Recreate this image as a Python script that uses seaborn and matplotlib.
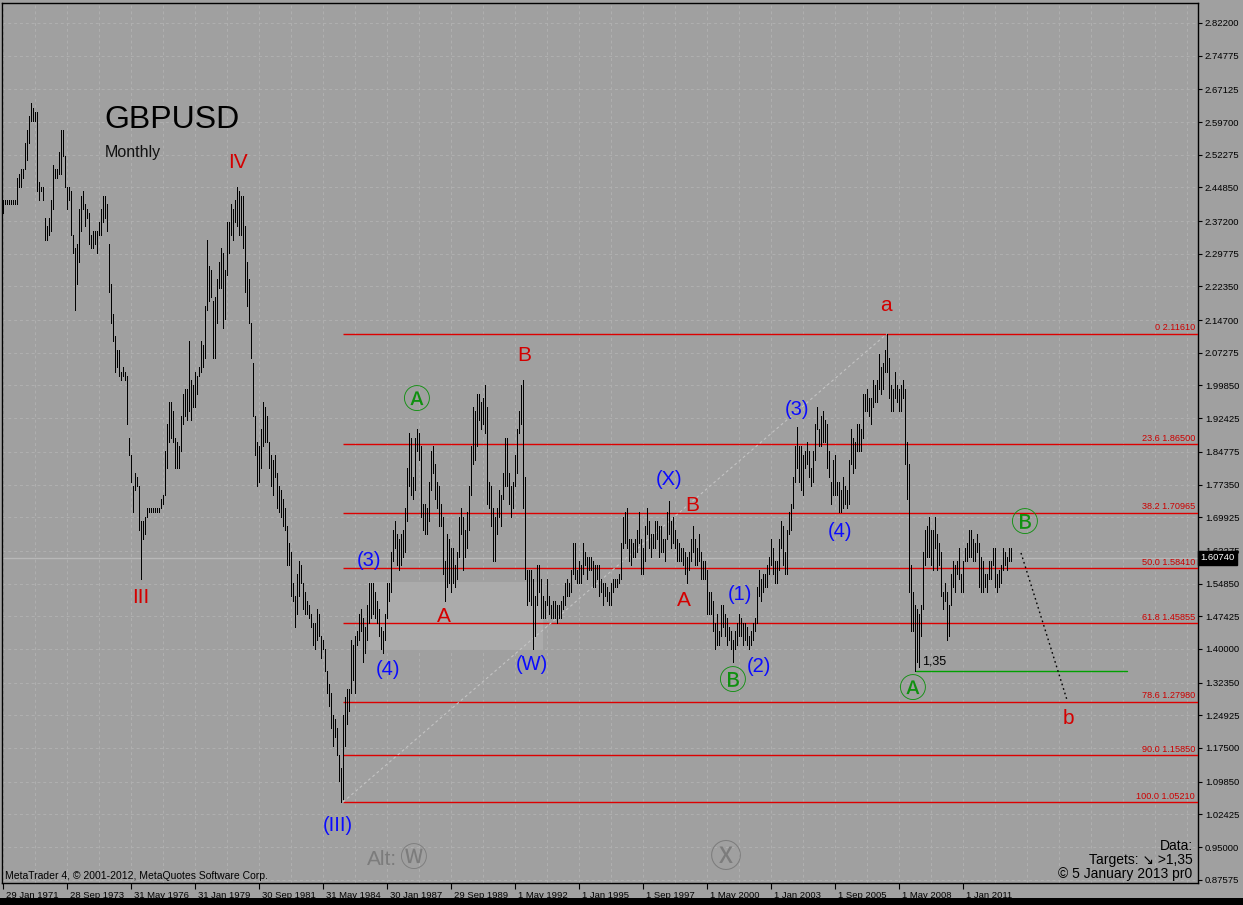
import numpy as np
import pandas as pd
import matplotlib
matplotlib.use("Agg")
import matplotlib.pyplot as plt
import matplotlib.transforms as mtransforms
from matplotlib.patches import Rectangle
import seaborn as sns

# ---------------- data (GBPUSD monthly, Jan 1971 .. Jan 2013) ----------------
month_high = [
    2.42, 2.42, 2.42, 2.42, 2.42, 2.42, 2.42, 2.47, 2.48, 2.49, 2.49, 2.55,  # 1971
    2.58, 2.61, 2.64, 2.63, 2.62, 2.62, 2.46, 2.45, 2.45, 2.38, 2.36, 2.38,  # 1972
    2.42, 2.50, 2.49, 2.49, 2.53, 2.58, 2.58, 2.52, 2.45, 2.45, 2.44, 2.34,  # 1973
    2.31, 2.32, 2.40, 2.43, 2.44, 2.41, 2.40, 2.39, 2.34, 2.35, 2.35, 2.35,  # 1974
    2.37, 2.40, 2.43, 2.43, 2.41, 2.32, 2.23, 2.16, 2.11, 2.08, 2.08, 2.03,  # 1975
    2.04, 2.03, 2.02, 1.88, 1.84, 1.77, 1.80, 1.79, 1.77, 1.69, 1.69, 1.70,  # 1976
    1.72, 1.72, 1.72, 1.72, 1.72, 1.72, 1.72, 1.74, 1.75, 1.85, 1.91, 1.96,  # 1977
    1.96, 1.94, 1.88, 1.87, 1.86, 1.93, 1.98, 1.99, 1.99, 2.10, 2.01, 2.00,  # 1978
    2.03, 2.02, 2.04, 2.10, 2.09, 2.18, 2.33, 2.27, 2.26, 2.19, 2.20, 2.24,  # 1979
    2.28, 2.31, 2.30, 2.26, 2.37, 2.37, 2.41, 2.40, 2.42, 2.45, 2.44, 2.43,  # 1980
    2.43, 2.36, 2.28, 2.24, 2.14, 2.05, 1.93, 1.87, 1.86, 1.90, 1.96, 1.95,  # 1981
    1.93, 1.87, 1.84, 1.83, 1.84, 1.80, 1.77, 1.76, 1.74, 1.72, 1.68, 1.64,  # 1982
    1.62, 1.55, 1.52, 1.57, 1.60, 1.59, 1.55, 1.53, 1.51, 1.50, 1.48, 1.46,  # 1983
    1.46, 1.49, 1.48, 1.43, 1.42, 1.40, 1.35, 1.32, 1.30, 1.25, 1.24, 1.22,  # 1984
    1.16, 1.13, 1.25, 1.29, 1.31, 1.31, 1.42, 1.41, 1.43, 1.44, 1.48, 1.49,  # 1985
    1.47, 1.45, 1.50, 1.55, 1.55, 1.55, 1.53, 1.51, 1.49, 1.45, 1.44, 1.48,  # 1986
    1.55, 1.55, 1.62, 1.67, 1.69, 1.66, 1.65, 1.66, 1.67, 1.72, 1.81, 1.89,  # 1987
    1.88, 1.79, 1.88, 1.90, 1.89, 1.86, 1.73, 1.73, 1.72, 1.78, 1.85, 1.86,  # 1988
    1.82, 1.78, 1.77, 1.73, 1.70, 1.60, 1.66, 1.65, 1.63, 1.63, 1.59, 1.62,  # 1989
    1.70, 1.72, 1.70, 1.67, 1.71, 1.77, 1.86, 1.95, 1.94, 1.98, 1.98, 1.96,  # 1990
    1.97, 2.00, 1.95, 1.78, 1.77, 1.72, 1.70, 1.72, 1.76, 1.75, 1.80, 1.88,  # 1991
    1.88, 1.80, 1.77, 1.78, 1.84, 1.90, 1.94, 2.00, 2.01, 1.79, 1.58, 1.58,  # 1992
    1.58, 1.56, 1.52, 1.59, 1.59, 1.56, 1.52, 1.51, 1.56, 1.52, 1.50, 1.51,  # 1993
    1.51, 1.50, 1.50, 1.51, 1.52, 1.55, 1.56, 1.55, 1.58, 1.64, 1.64, 1.58,  # 1994
    1.60, 1.59, 1.64, 1.62, 1.61, 1.61, 1.61, 1.60, 1.59, 1.59, 1.59, 1.56,  # 1995
    1.55, 1.55, 1.54, 1.53, 1.55, 1.56, 1.56, 1.56, 1.57, 1.64, 1.70, 1.71,  # 1996
    1.72, 1.65, 1.65, 1.64, 1.65, 1.67, 1.71, 1.65, 1.63, 1.68, 1.72, 1.69,  # 1997
    1.66, 1.66, 1.69, 1.69, 1.68, 1.68, 1.65, 1.65, 1.71, 1.735, 1.69, 1.70,  # 1998
    1.67, 1.65, 1.64, 1.63, 1.63, 1.62, 1.61, 1.62, 1.65, 1.68, 1.65, 1.63,  # 1999
    1.66, 1.62, 1.60, 1.60, 1.58, 1.53, 1.53, 1.51, 1.46, 1.48, 1.44, 1.50,  # 2000
    1.50, 1.48, 1.47, 1.45, 1.44, 1.42, 1.44, 1.46, 1.48, 1.47, 1.46, 1.46,  # 2001
    1.45, 1.43, 1.44, 1.46, 1.47, 1.54, 1.58, 1.56, 1.57, 1.57, 1.59, 1.61,  # 2002
    1.65, 1.63, 1.60, 1.60, 1.65, 1.69, 1.68, 1.62, 1.67, 1.71, 1.73, 1.79,  # 2003
    1.86, 1.905, 1.86, 1.86, 1.84, 1.85, 1.87, 1.85, 1.81, 1.85, 1.91, 1.95,  # 2004
    1.90, 1.93, 1.94, 1.92, 1.91, 1.85, 1.78, 1.83, 1.84, 1.78, 1.78, 1.76,  # 2005
    1.79, 1.77, 1.76, 1.83, 1.90, 1.88, 1.87, 1.91, 1.91, 1.90, 1.98, 1.98,  # 2006
    1.99, 1.97, 1.97, 2.01, 2.00, 2.01, 2.07, 2.04, 2.05, 2.08, 2.116, 2.06,  # 2007
    2.00, 1.99, 2.03, 2.00, 1.99, 2.00, 2.01, 1.99, 1.87, 1.82, 1.59, 1.53,  # 2008
    1.50, 1.49, 1.48, 1.50, 1.62, 1.67, 1.68, 1.70, 1.67, 1.67, 1.70, 1.66,  # 2009
    1.64, 1.62, 1.53, 1.55, 1.53, 1.50, 1.57, 1.60, 1.59, 1.60, 1.63, 1.57,  # 2010
    1.60, 1.63, 1.64, 1.67, 1.67, 1.65, 1.64, 1.66, 1.64, 1.61, 1.60, 1.57,  # 2011
    1.57, 1.60, 1.60, 1.63, 1.63, 1.57, 1.58, 1.59, 1.63, 1.62, 1.61, 1.63,  # 2012
    1.63,                                                                     # 2013
]
month_low = [
    2.39, 2.41, 2.41, 2.41, 2.41, 2.41, 2.41, 2.41, 2.45, 2.45, 2.47, 2.49,  # 1971
    2.51, 2.55, 2.60, 2.60, 2.60, 2.44, 2.42, 2.44, 2.42, 2.33, 2.33, 2.34,  # 1972
    2.35, 2.40, 2.47, 2.47, 2.48, 2.48, 2.52, 2.45, 2.40, 2.42, 2.34, 2.30,  # 1973
    2.17, 2.23, 2.28, 2.35, 2.40, 2.36, 2.38, 2.32, 2.31, 2.31, 2.32, 2.30,  # 1974
    2.34, 2.34, 2.37, 2.38, 2.35, 2.21, 2.14, 2.10, 2.03, 2.04, 2.02, 2.01,  # 1975
    2.02, 2.01, 1.91, 1.84, 1.78, 1.71, 1.76, 1.77, 1.67, 1.56, 1.65, 1.66,  # 1976
    1.70, 1.71, 1.71, 1.71, 1.71, 1.71, 1.71, 1.72, 1.73, 1.75, 1.81, 1.87,  # 1977
    1.88, 1.87, 1.81, 1.81, 1.81, 1.85, 1.91, 1.93, 1.92, 1.94, 1.92, 1.95,  # 1978
    1.95, 1.98, 2.02, 2.03, 2.04, 2.06, 2.17, 2.19, 2.20, 2.06, 2.06, 2.14,  # 1979
    2.22, 2.22, 2.13, 2.15, 2.25, 2.30, 2.34, 2.33, 2.37, 2.36, 2.34, 2.34,  # 1980
    2.31, 2.21, 2.18, 2.14, 2.06, 1.93, 1.84, 1.77, 1.78, 1.81, 1.86, 1.87,  # 1981
    1.87, 1.81, 1.77, 1.75, 1.79, 1.72, 1.71, 1.70, 1.68, 1.67, 1.59, 1.59,  # 1982
    1.52, 1.51, 1.45, 1.48, 1.52, 1.55, 1.49, 1.48, 1.48, 1.47, 1.45, 1.41,  # 1983
    1.40, 1.42, 1.43, 1.38, 1.40, 1.35, 1.30, 1.27, 1.22, 1.18, 1.20, 1.16,  # 1984
    1.10, 1.052, 1.06, 1.18, 1.23, 1.26, 1.30, 1.33, 1.30, 1.41, 1.42, 1.44,  # 1985
    1.37, 1.39, 1.42, 1.46, 1.47, 1.48, 1.47, 1.46, 1.43, 1.40, 1.39, 1.42,  # 1986
    1.47, 1.51, 1.53, 1.60, 1.63, 1.59, 1.58, 1.59, 1.61, 1.62, 1.69, 1.77,  # 1987
    1.75, 1.74, 1.76, 1.85, 1.83, 1.70, 1.67, 1.66, 1.66, 1.69, 1.76, 1.80,  # 1988
    1.74, 1.72, 1.68, 1.68, 1.57, 1.51, 1.54, 1.55, 1.53, 1.55, 1.54, 1.56,  # 1989
    1.61, 1.66, 1.58, 1.61, 1.63, 1.67, 1.75, 1.82, 1.83, 1.86, 1.92, 1.90,  # 1990
    1.91, 1.89, 1.73, 1.72, 1.68, 1.60, 1.60, 1.66, 1.70, 1.68, 1.74, 1.77,  # 1991
    1.77, 1.73, 1.70, 1.72, 1.77, 1.80, 1.89, 1.91, 1.72, 1.56, 1.50, 1.51,  # 1992
    1.50, 1.40, 1.43, 1.50, 1.53, 1.47, 1.47, 1.47, 1.50, 1.48, 1.47, 1.47,  # 1993
    1.47, 1.46, 1.47, 1.47, 1.49, 1.50, 1.52, 1.52, 1.53, 1.57, 1.56, 1.55,  # 1994
    1.55, 1.55, 1.57, 1.59, 1.56, 1.58, 1.58, 1.54, 1.54, 1.56, 1.52, 1.53,  # 1995
    1.50, 1.52, 1.51, 1.50, 1.50, 1.53, 1.54, 1.54, 1.55, 1.56, 1.63, 1.64,  # 1996
    1.63, 1.60, 1.59, 1.61, 1.61, 1.62, 1.64, 1.57, 1.57, 1.60, 1.66, 1.63,  # 1997
    1.61, 1.63, 1.63, 1.65, 1.61, 1.62, 1.62, 1.60, 1.65, 1.66, 1.63, 1.64,  # 1998
    1.63, 1.60, 1.60, 1.60, 1.59, 1.57, 1.55, 1.58, 1.60, 1.62, 1.59, 1.59,  # 1999
    1.60, 1.56, 1.56, 1.56, 1.48, 1.48, 1.48, 1.44, 1.40, 1.41, 1.41, 1.43,  # 2000
    1.45, 1.43, 1.41, 1.42, 1.40, 1.37, 1.40, 1.41, 1.43, 1.43, 1.41, 1.42,  # 2001
    1.41, 1.40, 1.41, 1.42, 1.44, 1.46, 1.52, 1.51, 1.53, 1.54, 1.54, 1.57,  # 2002
    1.59, 1.57, 1.55, 1.55, 1.58, 1.63, 1.59, 1.57, 1.57, 1.66, 1.67, 1.72,  # 2003
    1.78, 1.81, 1.78, 1.76, 1.75, 1.81, 1.82, 1.79, 1.77, 1.78, 1.83, 1.90,  # 2004
    1.86, 1.86, 1.87, 1.87, 1.81, 1.79, 1.73, 1.75, 1.75, 1.75, 1.71, 1.71,  # 2005
    1.72, 1.73, 1.72, 1.73, 1.82, 1.80, 1.81, 1.85, 1.85, 1.85, 1.88, 1.94,  # 2006
    1.94, 1.93, 1.91, 1.95, 1.96, 1.96, 1.99, 1.98, 1.99, 2.03, 2.03, 1.97,  # 2007
    1.94, 1.94, 1.97, 1.96, 1.94, 1.94, 1.97, 1.82, 1.74, 1.53, 1.44, 1.44,  # 2008
    1.35, 1.37, 1.36, 1.43, 1.49, 1.59, 1.61, 1.61, 1.59, 1.58, 1.63, 1.58,  # 2009
    1.59, 1.52, 1.49, 1.51, 1.42, 1.43, 1.50, 1.54, 1.53, 1.57, 1.56, 1.53,  # 2010
    1.53, 1.60, 1.60, 1.61, 1.61, 1.60, 1.60, 1.62, 1.54, 1.53, 1.53, 1.54,  # 2011
    1.53, 1.56, 1.56, 1.59, 1.54, 1.53, 1.54, 1.55, 1.58, 1.59, 1.58, 1.60,  # 2012
    1.60,                                                                     # 2013
]

x_tick_months = [0, 32, 64, 96, 128, 160, 192, 224, 256, 288, 320, 352, 384, 416, 448, 480]
x_tick_labels = ["29 Jan 1971", "28 Sep 1973", "31 May 1976", "31 Jan 1979",
                 "30 Sep 1981", "31 May 1984", "30 Jan 1987", "29 Sep 1989",
                 "1 May 1992", "1 Jan 1995", "1 Sep 1997", "1 May 2000",
                 "1 Jan 2003", "1 Sep 2005", "1 May 2008", "1 Jan 2011"]
y_tick_values = [2.82200, 2.74775, 2.67125, 2.59700, 2.52275, 2.44850, 2.37200,
                 2.29775, 2.22350, 2.14700, 2.07275, 1.99850, 1.92425, 1.84775,
                 1.77350, 1.69925, 1.62275, 1.54850, 1.47425, 1.40000, 1.32350,
                 1.24925, 1.17500, 1.09850, 1.02425, 0.95000, 0.87575]

fib_levels = [2.11610, 1.86500, 1.70965, 1.58410, 1.45855, 1.27980, 1.15850, 1.05210]
fib_ratios = ["0", "23.6", "38.2", "50.0", "61.8", "78.6", "90.0", "100.0"]
fib_start_month = 170
trend_months = [170, 442]
trend_prices = [1.0521, 2.1161]
support_months = [456.5, 562]
support_price = 1.35
proj_months = [509, 520, 532]
proj_prices = [1.618, 1.459, 1.284]
box_months = [182.5, 270]
box_prices = [1.398, 1.552]
last_price = 1.6074

# wave labels: (text, month, price, style)
wave_labels = [
    ("IV", 117.5, 2.506, "red"), ("III", 69, 1.516, "red"),
    ("(III)", 167.5, 1.000, "blue"), ("(3)", 183, 1.600, "blue"),
    ("(4)", 192.5, 1.354, "blue"), ("A", 220.5, 1.473, "red"),
    ("\u24b6", 206.5, 1.963, "green"), ("B", 260.5, 2.066, "red"),
    ("(W)", 264.5, 1.364, "blue"), ("(X)", 333, 1.786, "blue"),
    ("B", 344.5, 1.725, "red"), ("A", 340.5, 1.511, "red"),
    ("(1)", 368.5, 1.523, "blue"), ("\u24b7", 364.5, 1.325, "green"),
    ("(2)", 378, 1.359, "blue"), ("(3)", 397, 1.945, "blue"),
    ("(4)", 418.5, 1.666, "blue"), ("a", 441.5, 2.181, "red"),
    ("\u24b6", 454.5, 1.307, "green"), ("\u24b7", 510.5, 1.684, "green"),
    ("b", 532.5, 1.241, "red"),
]

# ---------------- figure ----------------
sns.set_style("ticks")
plt.rcParams['font.family'] = ['Liberation Sans', 'DejaVu Sans']
CIRCLED = ['Noto Sans CJK JP', 'DejaVu Sans']

BG = '#a0a0a0'
W, H = 1243, 905
fig = plt.figure(figsize=(W / 100, H / 100), dpi=100, facecolor=BG)
ax = fig.add_axes([2 / W, 22 / H, 1196 / W, 880 / H], facecolor=BG)

months = np.arange(len(month_high))
df = pd.DataFrame({
    "month": np.concatenate([months, months]),
    "price": np.concatenate([np.array(month_low), np.array(month_high)]),
})
sns.lineplot(data=df, x="month", y="price", units="month", estimator=None,
             color="black", lw=0.72, ax=ax, legend=False, zorder=4, antialiased=False)

xmin, xmax = -0.5, 597.5
ymin, ymax = 0.8683, 2.8674
ax.set_xlim(xmin, xmax)
ax.set_ylim(ymin, ymax)
ax.set_xlabel("")
ax.set_ylabel("")

# grid
ax.set_xticks(x_tick_months)
ax.set_xticks(np.arange(16, 598, 16), minor=True)
ax.set_yticks(y_tick_values)
grid_kw = dict(color='#b0b0b0', lw=0.7, dashes=(3, 3))
ax.grid(True, which='both', axis='x', **grid_kw)
ax.grid(True, which='major', axis='y', **grid_kw)
ax.set_axisbelow(True)

# ticks
ax.yaxis.tick_right()
ax.set_yticklabels([f"{v:.5f}" for v in y_tick_values])
ax.set_xticklabels(x_tick_labels)
ax.tick_params(axis='y', which='major', length=3, pad=2, labelsize=6.8,
               colors='black', direction='out')
ax.tick_params(axis='x', which='major', length=4, pad=2, labelsize=6.8,
               colors='black', direction='out')
ax.tick_params(axis='x', which='minor', length=0)
off = mtransforms.ScaledTranslation(2 / 72, 0, fig.dpi_scale_trans)
for lab in ax.get_xticklabels():
    lab.set_horizontalalignment('left')
    lab.set_transform(lab.get_transform() + off)
for sp in ax.spines.values():
    sp.set_visible(True)
    sp.set_color('black')
    sp.set_linewidth(1.0)

# shaded box
ax.add_patch(Rectangle((box_months[0], box_prices[0]), box_months[1] - box_months[0],
                       box_prices[1] - box_prices[0], facecolor='#ababab',
                       edgecolor='none', zorder=1))

# current price line
ax.axhline(last_price, color='#b8b8b8', lw=1.0, zorder=2)

# fibonacci levels
ax.hlines(fib_levels, fib_start_month, xmax, colors='#dd0000', lw=1.0, zorder=3)
for lvl, r in zip(fib_levels, fib_ratios):
    ax.annotate(f"{r} {lvl:.5f}", xy=(596, lvl), xytext=(0, 1),
                textcoords='offset points', ha='right', va='bottom',
                fontsize=6.6, color='#cc0000', zorder=6)

# trend line
ax.plot(trend_months, trend_prices, color='#c4c4c4', lw=0.8, dashes=(2.5, 2.5), zorder=3)

# support line
ax.plot(support_months, [support_price, support_price], color='#00a000', lw=1.0, zorder=3)
ax.text(459.5, 1.3704, "1,35", fontsize=9, color='black', ha='left', va='center', zorder=6)

# projection path
ax.plot(proj_months, proj_prices, color='black', lw=1.0, dashes=(1.2, 2.2), zorder=5)

# wave labels
styles = {
    "red": dict(color='#d40000', fontsize=15),
    "blue": dict(color='#0a0aff', fontsize=14.5),
    "green": dict(color='#109010', fontsize=20, family=CIRCLED),
}
for txt, m, p, st in wave_labels:
    ax.text(m, p, txt, ha='center', va='center', zorder=7, **styles[st])

# titles
ax.text(50.5, 2.602, "GBPUSD", fontsize=23, color='black', ha='left', va='center', zorder=7)
ax.text(51.0, 2.527, "Monthly", fontsize=11.5, color='#111111', ha='left', va='center', zorder=7)

# alternate markers
ax.text(182, 0.9228, "Alt:", fontsize=15, color='#7c7c7c', ha='left', va='center', zorder=7)
ax.text(205, 0.9228, "\u24cc", fontsize=20, color='#7c7c7c', ha='center', va='center',
        family=CIRCLED, zorder=7)
ax.text(361.5, 0.925, "\u24cd", fontsize=23, color='#7c7c7c', ha='center', va='center',
        family=CIRCLED, zorder=7)

# info texts
ax.text(0.9955, 0.042, "Data:", transform=ax.transAxes, ha='right', va='center',
        fontsize=10, color='black', zorder=7)
ax.text(0.9955, 0.026, "Targets: \u2198 >1,35", transform=ax.transAxes, ha='right',
        va='center', fontsize=10, color='black', zorder=7)
ax.text(0.9955, 0.0105, "\u00a9 5 January 2013 pr0", transform=ax.transAxes, ha='right',
        va='center', fontsize=10, color='black', zorder=7)
ax.text(0.0025, 0.002, "MetaTrader 4, \u00a9 2001-2012, MetaQuotes Software Corp.",
        transform=ax.transAxes, ha='left', va='bottom', fontsize=7.5, color='black', zorder=7)

# current price tag
ax.annotate(f"{last_price:.5f}", xy=(1, last_price), xycoords=('axes fraction', 'data'),
            xytext=(2, 0), textcoords='offset points', ha='left', va='center',
            fontsize=6.8, color='white', annotation_clip=False, zorder=10,
            bbox=dict(boxstyle='square,pad=0.25', fc='black', ec='black'))

# bottom window strip
fig.add_artist(Rectangle((0, 0), 1, 7 / H, transform=fig.transFigure,
                         facecolor='black', edgecolor='none', zorder=0))

fig.savefig("out.png", dpi=100, facecolor=BG)
